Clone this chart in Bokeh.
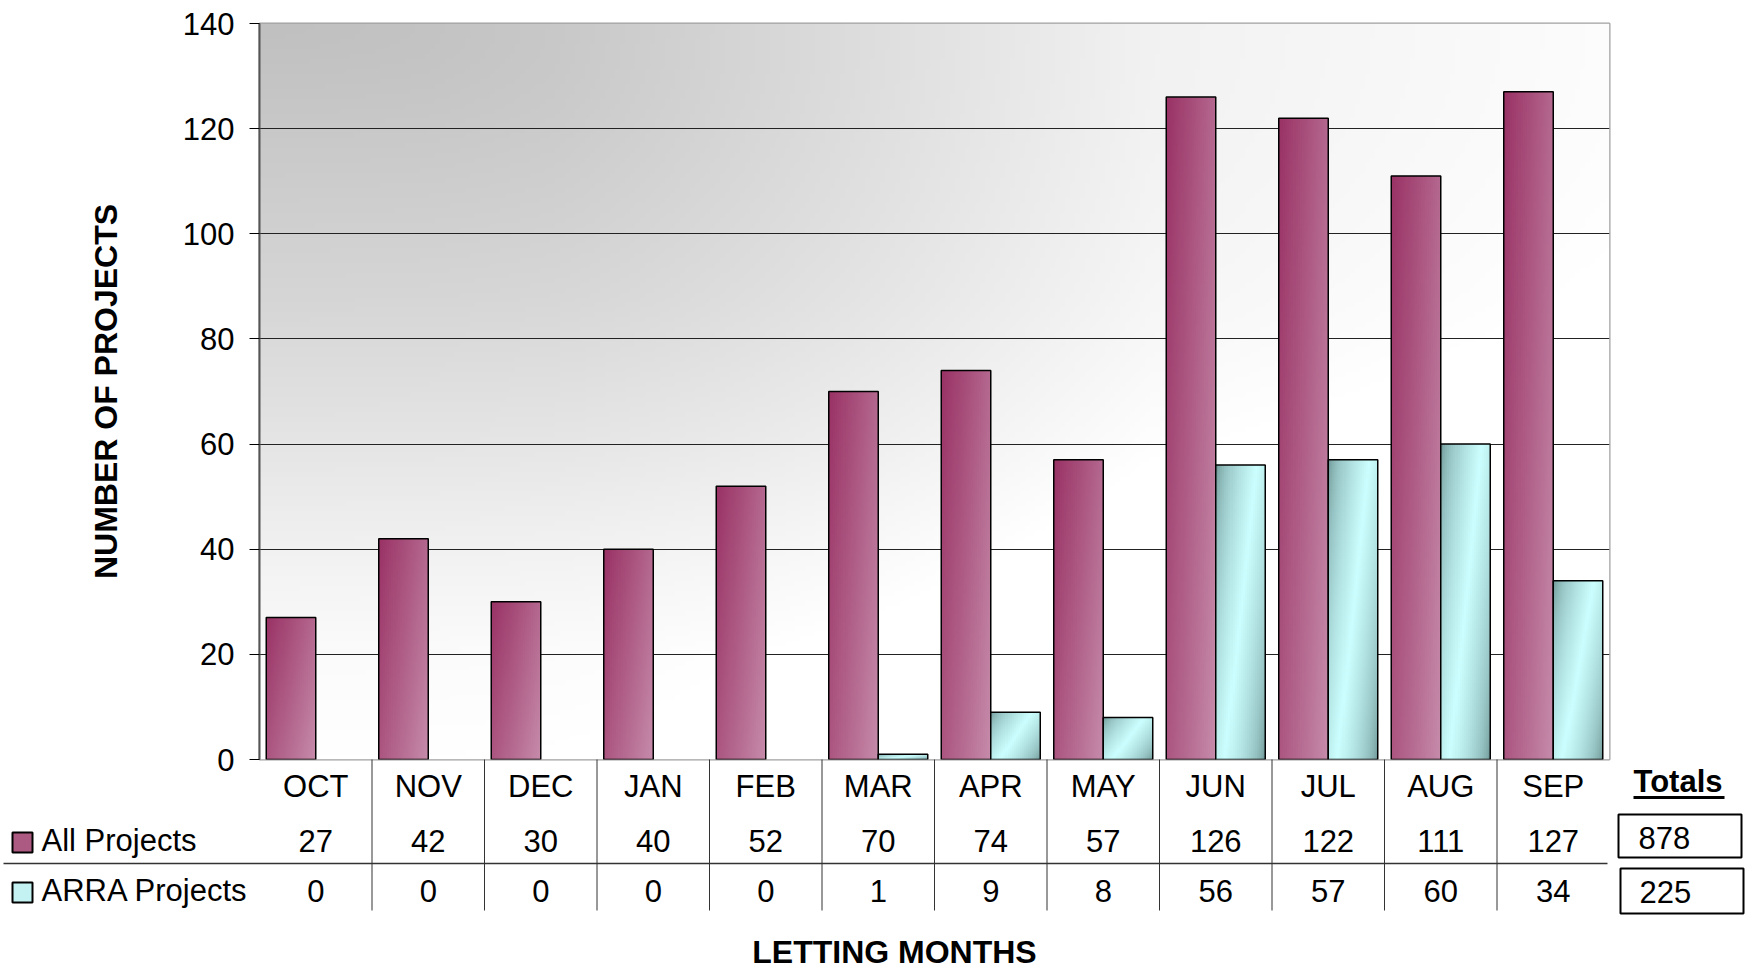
import numpy as np
from bokeh.plotting import figure
from bokeh.models import Range1d, FixedTicker
from bokeh.core.properties import value
from bokeh.embed import file_html
from bokeh.resources import INLINE

# ---------------- data ----------------
MONTHS = ["OCT", "NOV", "DEC", "JAN", "FEB", "MAR", "APR", "MAY", "JUN", "JUL", "AUG", "SEP"]
ALL_PROJECTS = [27, 42, 30, 40, 52, 70, 74, 57, 126, 122, 111, 127]
ARRA_PROJECTS = [0, 0, 0, 0, 0, 1, 9, 8, 56, 57, 60, 34]
SERIES_NAMES = ["All Projects", "ARRA Projects"]
Y_TICKS = [0, 20, 40, 60, 80, 100, 120, 140]
Y_TITLE = "NUMBER OF PROJECTS"
X_TITLE = "LETTING MONTHS"
TOTALS_TITLE = "Totals"

# ---------------- layout / style ----------------
FONT = "Liberation Sans"
FS = "31px"
TITLE_FS = "32px"
W, H = 1750, 970
FRAME_L, FRAME_R, FRAME_T, FRAME_B = 259, 1609, 23, 759   # canvas pixels
CAT_W = (FRAME_R - FRAME_L) / len(MONTHS)
BAR_W = 0.44
OFF = 0.22
PINK_DARK, PINK_LIGHT = (154, 51, 102), (198, 139, 170)
CYAN_DARK, CYAN_LIGHT = (112, 152, 152), (204, 255, 255)

n = len(MONTHS)
ymax = max(Y_TICKS)


def px2x(px):
    return -0.5 + (px - FRAME_L) / CAT_W


def rgba(rgb):
    h, w, _ = rgb.shape
    img = np.zeros((h, w, 4), dtype=np.uint8)
    img[..., :3] = np.clip(rgb, 0, 255).astype(np.uint8)
    img[..., 3] = 255
    return img.view(np.uint32).reshape(h, w)


def bar_gradient(dark, light, mode, nn=24, m=96):
    u = np.linspace(0, 1, nn)[None, :]
    v = np.linspace(0, 1, m)[:, None]
    t = 0.6 * u + 0.4 * (1 - v)
    if mode == "linear":
        f = t
    else:
        f = (1 - np.abs(t - 0.5) / 0.5) ** 0.6
    d = np.array(dark, float)
    l = np.array(light, float)
    return rgba(d + (l - d) * f[..., None])


# ================= main chart =================
p = figure(width=W, height=H,
           x_range=Range1d(-0.5, n - 0.5), y_range=Range1d(0, ymax),
           output_backend="svg", toolbar_location=None,
           min_border_left=FRAME_L, min_border_right=W - FRAME_R,
           min_border_top=FRAME_T, min_border_bottom=H - FRAME_B,
           background_fill_color="white", border_fill_color="white",
           outline_line_color="#a0a0a0", outline_line_width=2)

# background gradient of the plot area
nx, ny = 270, 148
gx = np.linspace(FRAME_L, FRAME_R, nx)
gy = np.linspace(FRAME_B, FRAME_T, ny)
tx = np.interp(gx, [259, 420, 550, 850, 1150, 1500, 1609], [0, .05, .13, .45, .79, .92, .96])
ty = np.interp(gy, [22, 300, 444, 549, 653, 759], [0, .35, .59, .78, .94, 1.0])
tt = np.minimum(1, np.sqrt(tx[None, :] ** 2 + ty[:, None] ** 2))
g = 192 + 63 * tt
bg = p.image_rgba(image=[rgba(np.stack([g, g, g], axis=-1))], x=[-0.5], y=[0], dw=[n], dh=[ymax])
bg.level = "image"

# bars
idx = np.arange(n)
for vals, xoff, grad in [
    (np.array(ALL_PROJECTS), -OFF, bar_gradient(PINK_DARK, PINK_LIGHT, "linear")),
    (np.array(ARRA_PROJECTS), OFF, bar_gradient(CYAN_DARK, CYAN_LIGHT, "band")),
]:
    mask = vals > 0
    xs = (idx + xoff)[mask]
    vv = vals[mask]
    k = int(mask.sum())
    p.image_rgba(image=[grad] * k, x=list(xs - BAR_W / 2), y=[0] * k,
                 dw=[BAR_W] * k, dh=[float(v) for v in vv])
    p.vbar(x=list(xs), top=[float(v) for v in vv], width=BAR_W, fill_color=None,
           line_color="black", line_width=1.5)

# grid
p.xgrid.visible = False
p.ygrid.ticker = FixedTicker(ticks=Y_TICKS[:-1])
p.ygrid.grid_line_color = "#222222"
p.ygrid.grid_line_width = 1

# y axis
p.yaxis.ticker = FixedTicker(ticks=Y_TICKS)
p.yaxis.axis_label = Y_TITLE
p.yaxis.axis_label_text_font = FONT
p.yaxis.axis_label_text_font_size = TITLE_FS
p.yaxis.axis_label_text_font_style = "bold"
p.yaxis.axis_label_text_color = "black"
p.yaxis.axis_label_standoff = 56
p.yaxis.major_label_text_font = FONT
p.yaxis.major_label_text_font_size = FS
p.yaxis.major_label_text_color = "black"
p.yaxis.major_label_standoff = 15
p.yaxis.major_tick_out = 10
p.yaxis.major_tick_in = 0
p.yaxis.major_tick_line_color = "black"
p.yaxis.minor_tick_line_color = None
p.yaxis.axis_line_color = "#555555"
p.yaxis.axis_line_width = 2
p.xaxis.visible = False

# ================= data table (transparent overlay, canvas pixel rows) =================
t = figure(width=W, height=H,
           x_range=Range1d(px2x(0), px2x(W)), y_range=Range1d(H, 0),
           output_backend="svg", toolbar_location=None,
           x_axis_location=None, y_axis_location=None,
           min_border=0, min_border_left=0, min_border_right=0,
           min_border_top=0, min_border_bottom=0,
           outline_line_color=None,
           background_fill_alpha=0, border_fill_alpha=0)
t.grid.visible = False
t.styles = {"position": "absolute", "top": "0px", "left": "0px", "z-index": "2"}

txt = dict(text_font=value(FONT), text_font_size=FS, text_color="black",
           text_baseline="middle")

MONTH_Y, ROW_Y = 786, [840, 890]
t.text(x=list(range(n)), y=[MONTH_Y] * n, text=MONTHS, text_align="center", **txt)
t.text(x=list(range(n)), y=[ROW_Y[0]] * n, text=[str(v) for v in ALL_PROJECTS],
       text_align="center", **txt)
t.text(x=list(range(n)), y=[ROW_Y[1]] * n, text=[str(v) for v in ARRA_PROJECTS],
       text_align="center", **txt)

# column separators and row separator
seps = [i + 0.5 for i in range(n - 1)]
t.segment(x0=seps, y0=[FRAME_B] * len(seps), x1=seps, y1=[910] * len(seps),
          line_color="#333333", line_width=1)
t.segment(x0=[px2x(3)], y0=[863], x1=[px2x(1607)], y1=[863],
          line_color="#333333", line_width=1.5)

# legend keys + row labels
t.rect(x=[px2x(22)] * 2, y=[ROW_Y[0] + 2, ROW_Y[1] + 2], width=20, height=20,
       width_units="screen", height_units="screen",
       fill_color=["#ad5a83", "#c4f2f2"], line_color="black", line_width=2)
t.text(x=[px2x(41)] * 2, y=ROW_Y, text=SERIES_NAMES, text_align="left", **txt)

# totals
t.text(x=[px2x(1633)], y=[781], text=[TOTALS_TITLE], text_align="left",
       text_font_style="bold", **txt)
t.segment(x0=[px2x(1633)], y0=[797], x1=[px2x(1724)], y1=[797],
          line_color="black", line_width=3)
t.rect(x=[px2x(1679.5), px2x(1681.5)], y=[835.5, 890.5], width=[123, 123],
       height=[43, 45], width_units="screen", height_units="screen",
       fill_color="white", line_color="black", line_width=2)
t.text(x=[px2x(1638), px2x(1639)], y=[837.5, 891.5],
       text=[str(sum(ALL_PROJECTS)), str(sum(ARRA_PROJECTS))],
       text_align="left", **txt)

# x title
t.text(x=[px2x(894)], y=[951], text=[X_TITLE], text_align="center",
       text_font_style="bold", text_font=value(FONT), text_font_size=TITLE_FS,
       text_color="black", text_baseline="middle")

open("out.html", "w").write(file_html([p, t], INLINE))
